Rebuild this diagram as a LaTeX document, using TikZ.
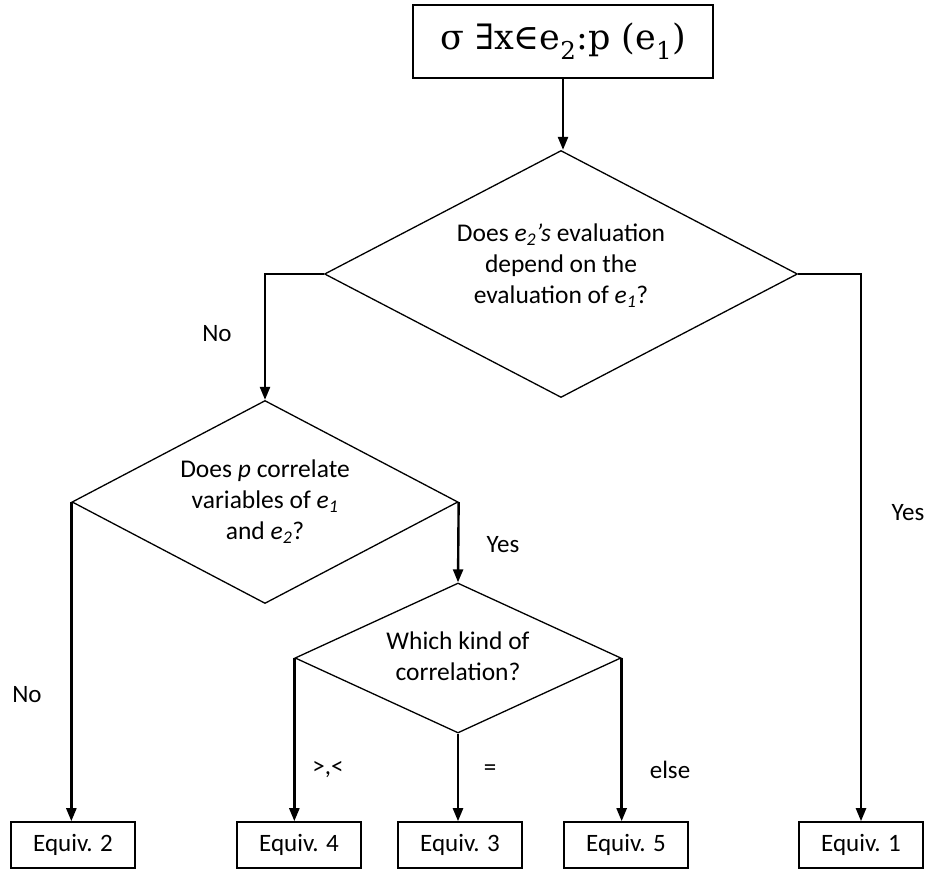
\documentclass[tikz,border=0pt]{standalone}
\usepackage{fontspec}
\setmainfont{Carlito}
\newfontfamily\symfont{DejaVu Serif}
\usetikzlibrary{shapes.geometric,arrows.meta}
\begin{document}
\begin{tikzpicture}[x=1pt,y=-1pt,
  box/.style={draw,line width=1.6pt,minimum width=124pt,minimum height=46pt,inner sep=0pt,font=\fontsize{25}{28}\selectfont},
  decision/.style={draw,diamond,line width=1.3pt,inner sep=0pt},
  qtext/.style={align=center,font=\fontsize{25.5}{31}\selectfont},
  flow/.style={line width=2.4pt,-{Triangle[length=13pt,width=10pt]}},
  lbl/.style={font=\fontsize{25}{28}\selectfont}]
\useasboundingbox (0,0) rectangle (929,872);

% start node
\node[draw,line width=1.6pt,minimum width=300pt,minimum height=73pt,inner sep=0pt,
      font=\symfont\fontsize{35}{38}\selectfont] (start) at (563,41.5)
      {σ ∃x∈e\textsubscript{2}:p (e\textsubscript{1})};

% decisions
\node[decision,minimum width=473pt,minimum height=247pt] (d1) at (561,274) {};
\node[qtext] (d1t) at (561,266) {Does \textit{e\textsubscript{2}'s} evaluation\\depend on the\\evaluation of \textit{e\textsubscript{1}}?};

\node[decision,minimum width=386pt,minimum height=203pt] (d2) at (265,502) {};
\node[qtext] (d2t) at (265,502) {Does \textit{p} correlate\\variables of \textit{e\textsubscript{1}}\\and \textit{e\textsubscript{2}}?};

\node[decision,minimum width=326pt,minimum height=150pt] (d3) at (458,658) {};
\node[qtext] (d3t) at (458,656) {Which kind of\\correlation?};

% outcomes
\node[box] (e2) at (73,845) {Equiv. 2};
\node[box] (e4) at (299,845) {Equiv. 4};
\node[box] (e3) at (460,845) {Equiv. 3};
\node[box] (e5) at (626,845) {Equiv. 5};
\node[box] (e1) at (861,845) {Equiv. 1};

% connectors
\coordinate (c1) at (d1.west -| d2.north);
\coordinate (c2) at (d1.east -| e1.north);
\draw[flow] (start.south) -- (start.south |- d1.north);
\draw[flow] (d1.west) -- (c1) -- (d2.north);
\draw[flow] (d1.east) -- (c2) -- (e1.north);
\draw[flow] (d2.west) -- (d2.west |- e2.north);
\draw[flow] (d2.east) -- (d3.north);
\draw[flow] (d3.west) -- (d3.west |- e4.north);
\draw[flow] (d3.south) -- (d3.south |- e3.north);
\draw[flow] (d3.east) -- (d3.east |- e5.north);

% branch labels
\node[lbl] (l1) at (217,334) {No};
\node[lbl] (l2) at (908,513) {Yes};
\node[lbl] (l3) at (503,545) {Yes};
\node[lbl] (l4) at (27,695) {No};
\node[lbl] (l5) at (328,770) {>,<};
\node[lbl] (l6) at (490,770) {=};
\node[lbl] (l7) at (670,770) {else};
\end{tikzpicture}
\end{document}
